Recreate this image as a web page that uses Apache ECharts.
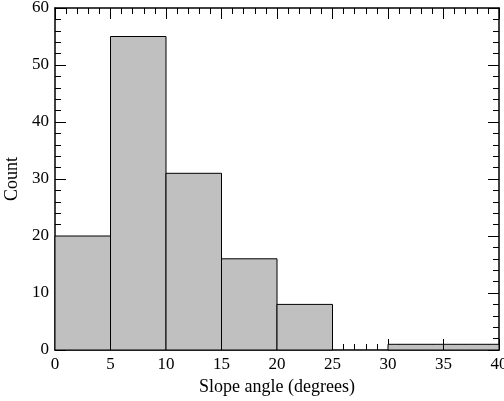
<!DOCTYPE html>
<html>
<head>
<meta charset="utf-8">
<script src="https://cdn.jsdelivr.net/npm/echarts@6/dist/echarts.min.js"></script>
<style>
  html, body { margin: 0; padding: 0; background: #fff; }
  #chart { width: 504px; height: 401px; }
</style>
</head>
<body>
<div id="chart"></div>
<script>
// Histogram bins (degrees) and their counts
const binStart = [0, 5, 10, 15, 20, 25, 30, 35];
const binEnd   = [5, 10, 15, 20, 25, 30, 35, 40];
const counts   = [20, 55, 31, 16, 8, 0, 1, 1];

const xTicks = [0, 5, 10, 15, 20, 25, 30, 35, 40];
const yTicks = [0, 10, 20, 30, 40, 50, 60];

const font = 'Liberation Serif, Times New Roman, serif';

const chart = echarts.init(document.getElementById('chart'), null, { renderer: 'canvas' });

const tickCommon = {
  axisLine: { show: true, onZero: false, lineStyle: { color: '#000', width: 1.5 } },
  axisTick: { show: true, inside: true, length: 11, lineStyle: { color: '#000', width: 1 } },
  minorTick: { show: true, splitNumber: 5, length: 6, lineStyle: { color: '#000', width: 1 } },
  splitLine: { show: false },
  minorSplitLine: { show: false }
};

const option = {
  animation: false,
  backgroundColor: '#fff',
  grid: { left: 55, right: 5, top: 8, bottom: 51, containLabel: false, outerBoundsMode: 'none' },
  xAxis: [
    Object.assign({
      type: 'value', min: xTicks[0], max: xTicks[xTicks.length - 1], interval: 5,
      position: 'bottom',
      name: 'Slope angle (degrees)', nameLocation: 'middle', nameGap: 21,
      nameTextStyle: { fontFamily: font, fontSize: 18, color: '#000' },
      axisLabel: { show: true, margin: 6, fontFamily: font, fontSize: 17, color: '#000' }
    }, tickCommon),
    Object.assign({
      type: 'value', min: xTicks[0], max: xTicks[xTicks.length - 1], interval: 5,
      position: 'top', axisLabel: { show: false }
    }, tickCommon)
  ],
  yAxis: [
    Object.assign({
      type: 'value', min: yTicks[0], max: yTicks[yTicks.length - 1], interval: 10,
      position: 'left',
      name: 'Count', nameLocation: 'middle', nameGap: 31,
      nameTextStyle: { fontFamily: font, fontSize: 18, color: '#000' },
      axisLabel: { show: true, margin: 6, fontFamily: font, fontSize: 17, color: '#000' }
    }, tickCommon),
    Object.assign({
      type: 'value', min: yTicks[0], max: yTicks[yTicks.length - 1], interval: 10,
      position: 'right', axisLabel: { show: false }
    }, tickCommon)
  ],
  series: [{
    type: 'custom',
    xAxisIndex: 0,
    yAxisIndex: 0,
    z: 1,
    data: counts.map((c, i) => [binStart[i], binEnd[i], c]),
    renderItem: function (params, api) {
      const c = api.value(2);
      if (c <= 0) return null;
      const p0 = api.coord([api.value(0), 0]);
      const p1 = api.coord([api.value(1), c]);
      return {
        type: 'rect',
        shape: { x: p0[0], y: p1[1], width: p1[0] - p0[0], height: p0[1] - p1[1] },
        style: { fill: '#c0c0c0', stroke: '#000', lineWidth: 1 }
      };
    }
  }]
};

chart.setOption(option);
</script>
</body>
</html>
